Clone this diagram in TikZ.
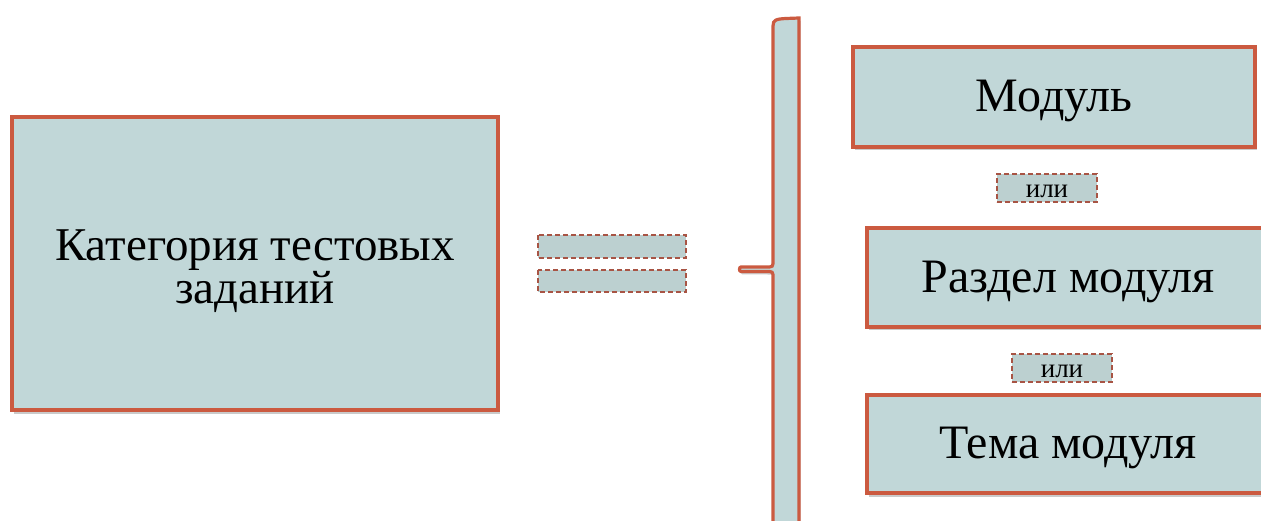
\documentclass[tikz,border=0pt]{standalone}
\usepackage{fontspec}
\setmainfont{Liberation Serif}
\usetikzlibrary{shadows}
\definecolor{boxfill}{HTML}{C1D7D8}
\definecolor{boxline}{HTML}{CB5A40}
\definecolor{dashline}{HTML}{A85444}
\definecolor{dashfill}{HTML}{BCD0D0}
\newcommand{\lowered}[2]{\raisebox{-#1}[\height][\depth]{#2}}
\tikzset{
  mainbox/.style={draw=boxline, fill=boxfill, line width=3.4pt, inner sep=0pt,
    drop shadow={shadow xshift=1.5pt, shadow yshift=-3.5pt, opacity=0.35, fill=black!60}},
  orbox/.style={draw=dashline, fill=dashfill, line width=2.8pt, dash pattern=on 5pt off 3pt, inner sep=0pt,
    font=\fontsize{27}{30}\selectfont},
  eqbar/.style={draw=dashline, fill=dashfill, line width=2.8pt, dash pattern=on 5pt off 3pt},
  bigtext/.style={font=\fontsize{48}{50}\selectfont}
}
\begin{document}
\begin{tikzpicture}[x=1pt,y=-1pt]
\useasboundingbox (0,0) rectangle (1261,521);
% left box
\node[mainbox, minimum width=486pt, minimum height=293pt,
  label={[align=center, font=\fontsize{47}{38}\selectfont, yshift=-8pt]center:Категория тестовых\\заданий}] (cat) at (255,263.5) {};
% equals bars
\draw[eqbar] (538,235) rectangle (686,258);
\draw[eqbar] (538,270) rectangle (686,292);
% brace
\filldraw[draw=boxline, fill=boxfill, line width=3.2pt,
  drop shadow={shadow xshift=1.5pt, shadow yshift=-3pt, opacity=0.35, fill=black!60}]
  (773,530) -- (773,278) .. controls (773,271.5) .. (766,271.5) -- (741,271.5)
  .. controls (739,271.5) and (739,267) .. (741,267) -- (766,267)
  .. controls (773,267) .. (773,260) -- (773,26) .. controls (773,20) and (776,19) .. (786,18.5)
  -- (799,18) -- (799,530) -- cycle;
% right boxes
\node[mainbox, bigtext, minimum width=402pt, minimum height=100pt] (mod) at (1054,97) {\lowered{4pt}{Модуль}};
\node[orbox, minimum width=100pt, minimum height=28pt] (or1) at (1047,188) {\lowered{3pt}{или}};
\node[mainbox, bigtext, minimum width=402pt, minimum height=99pt] (razd) at (1068,277.5) {\lowered{4pt}{Раздел модуля}};
\node[orbox, minimum width=100pt, minimum height=28pt] (or2) at (1062,368) {\lowered{3pt}{или}};
\node[mainbox, bigtext, minimum width=402pt, minimum height=98pt] (tema) at (1068,444) {\lowered{4pt}{Тема модуля}};
\end{tikzpicture}
\end{document}
